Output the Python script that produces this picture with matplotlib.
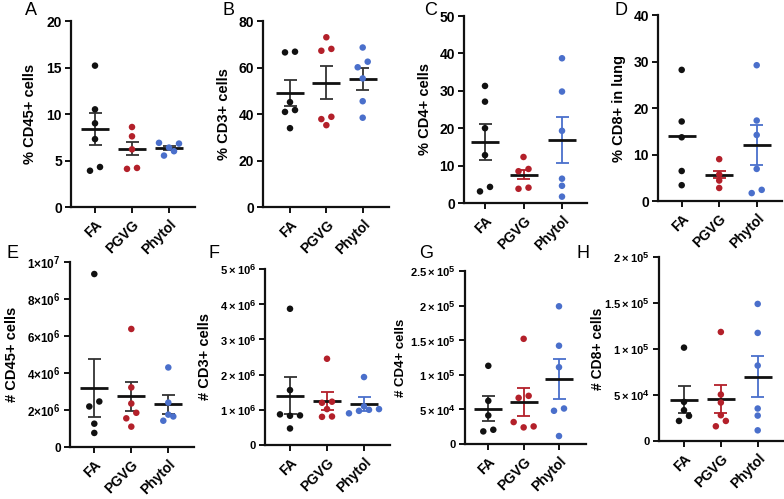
import numpy as np
import matplotlib
matplotlib.use('Agg')
import matplotlib.pyplot as plt
import matplotlib._mathtext as _mt

# larger superscripts (closer to the reference's exponent size)
_mt.SHRINK_FACTOR = 0.82

plt.rcParams['font.family'] = ['Liberation Sans', 'DejaVu Sans']
plt.rcParams['mathtext.fontset'] = 'custom'
plt.rcParams['mathtext.bf'] = 'Liberation Sans:bold'
plt.rcParams['mathtext.rm'] = 'Liberation Sans:bold'
plt.rcParams['mathtext.default'] = 'bf'

groups = ['FA', 'PGVG', 'Phytol']
TS = '\u2009'  # thin space used in the exponent labels

# ---- Panel A: % CD45+ cells
a_fa = [15.2, 10.5, 9.0, 7.3, 4.3, 3.9]
a_pgvg = [8.6, 7.6, 6.2, 4.2, 4.1]
a_phytol = [6.9, 6.82, 6.39, 5.53, 6.0]
a_mean = [8.4, 6.28, 6.35]
a_sem = [1.7, 0.72, 0.25]
a_ticks = [0, 5, 10, 15, 20]
a_ticklabels = ['0', '5', '10', '15', '20']

# ---- Panel B: % CD3+ cells
b_fa = [66.5, 66.8, 45.1, 41.7, 40.9, 33.9]
b_pgvg = [73.0, 68.0, 67.2, 38.8, 37.8, 35.2]
b_phytol = [68.6, 62.5, 60.1, 55.3, 45.5, 38.4]
b_mean = [49.1, 53.4, 55.0]
b_sem = [5.6, 7.1, 4.6]
b_ticks = [0, 20, 40, 60, 80]
b_ticklabels = ['0', '20', '40', '60', '80']

# ---- Panel C: % CD4+ cells
c_fa = [31.3, 27.1, 20.0, 12.8, 3.1, 4.3]
c_pgvg = [12.3, 9.1, 8.5, 3.8, 4.1]
c_phytol = [38.7, 29.8, 19.3, 6.5, 4.6, 1.7]
c_mean = [16.4, 7.55, 16.8]
c_sem = [4.8, 1.25, 6.2]
c_ticks = [0, 10, 20, 30, 40, 50]
c_ticklabels = ['0', '10', '20', '30', '40', '50']

# ---- Panel D: % CD8+ in lung
d_fa = [28.2, 17.1, 13.7, 6.45, 3.4]
d_pgvg = [9.0, 5.7, 4.4, 2.8]
d_phytol = [29.2, 17.3, 14.2, 6.9, 2.4, 1.7]
d_mean = [14.0, 5.66, 12.0]
d_sem = [np.nan, 0.8, 4.25]
d_ticks = [0, 10, 20, 30, 40]
d_ticklabels = ['0', '10', '20', '30', '40']

# ---- Panel E: # CD45+ cells
e_fa = [9.35e6, 2.46e6, 2.19e6, 1.26e6, 0.76e6]
e_pgvg = [6.38e6, 3.22e6, 2.35e6, 1.85e6, 1.55e6, 1.10e6]
e_phytol = [4.3e6, 2.4e6, 1.75e6, 1.65e6, 1.42e6]
e_mean = [3.2e6, 2.73e6, 2.3e6]
e_sem = [1.57e6, 0.78e6, 0.53e6]
e_ticks = [0, 2e6, 4e6, 6e6, 8e6, 1e7]
e_ticklabels = ['0', '2×10$^{6}$', '4×10$^{6}$', '6×10$^{6}$', '8×10$^{6}$', '1×10$^{7}$']

# ---- Panel F: # CD3+ cells
f_fa = [3.87e6, 1.56e6, 0.87e6, 0.83e6, 0.84e6, 0.47e6]
f_pgvg = [2.45e6, 1.23e6, 1.2e6, 1.02e6, 0.8e6, 0.81e6]
f_phytol = [1.93e6, 1.1e6, 1.02e6, 1.0e6, 0.97e6, 0.9e6]
f_mean = [1.40e6, 1.25e6, 1.17e6]
f_sem = [0.52e6, 0.25e6, 0.19e6]
f_ticks = [0, 1e6, 2e6, 3e6, 4e6, 5e6]
f_ticklabels = ['0'] + [f'{k}{TS}×{TS}10' + '$^{6}$' for k in ('1', '2', '3', '4', '5')]

# ---- Panel G: # CD4+ cells
g_fa = [11.3e4, 6.24e4, 4.13e4, 1.82e4, 2.06e4]
g_pgvg = [15.2e4, 6.96e4, 6.67e4, 3.17e4, 2.54e4, 2.4e4]
g_phytol = [19.9e4, 14.2e4, 11.1e4, 5.13e4, 4.8e4, 1.15e4]
g_mean = [5.1e4, 6.1e4, 9.4e4]
g_sem = [1.8e4, 2.0e4, 2.85e4]
g_ticks = [0, 5e4, 1e5, 1.5e5, 2e5, 2.5e5]
g_ticklabels = ['0', f'5{TS}×{TS}10' + '$^{4}$', f'1{TS}×{TS}10' + '$^{5}$',
                f'1.5{TS}×{TS}10' + '$^{5}$', f'2{TS}×{TS}10' + '$^{5}$',
                f'2.5{TS}×{TS}10' + '$^{5}$']

# ---- Panel H: # CD8+ cells
h_fa = [10.15e4, 4.25e4, 3.35e4, 2.18e4, 2.73e4]
h_pgvg = [11.85e4, 5.05e4, 4.18e4, 2.8e4, 2.18e4, 1.6e4]
h_phytol = [14.9e4, 11.75e4, 8.2e4, 3.53e4, 2.76e4, 1.16e4]
h_mean = [4.5e4, 4.58e4, 7.0e4]
h_sem = [1.45e4, 1.5e4, 2.2e4]
h_ticks = [0, 5e4, 1e5, 1.5e5, 2e5]
h_ticklabels = ['0', f'5{TS}×{TS}10' + '$^{4}$', f'1{TS}×{TS}10' + '$^{5}$',
                f'1.5{TS}×{TS}10' + '$^{5}$', f'2{TS}×{TS}10' + '$^{5}$']

ylabels = ['% CD45+ cells', '% CD3+ cells', '% CD4+ cells', '% CD8+ in lung',
           '# CD45+ cells', '# CD3+ cells', '# CD4+ cells', '# CD8+ cells']
letters = ['A', 'B', 'C', 'D', 'E', 'F', 'G', 'H']

# ---- styling / layout (pixels) ----
W, H = 784, 499
BLACK = '#111111'
RED = '#B3202A'
BLUE = '#4A6FCB'
DARK = '#333333'
point_colors = [BLACK, RED, BLUE]

panels = [
    dict(data=(a_fa, a_pgvg, a_phytol), mean=a_mean, sem=a_sem, ticks=a_ticks, tl=a_ticklabels,
         box=(71, 21, 195, 207), c=(95, 169), lab=30.5, let=(25, 2), tfs=10, lfs=10.5, err=[DARK] * 3),
    dict(data=(b_fa, b_pgvg, b_phytol), mean=b_mean, sem=b_sem, ticks=b_ticks, tl=b_ticklabels,
         box=(263, 21, 389, 207), c=(290, 362.7), lab=223.5, let=(222, 2), tfs=10, lfs=10.5, err=[DARK] * 3),
    dict(data=(c_fa, c_pgvg, c_phytol), mean=c_mean, sem=c_sem, ticks=c_ticks, tl=c_ticklabels,
         box=(464, 16, 587, 203), c=(485, 562), lab=425, let=(424, 2), tfs=10, lfs=10.5, err=[DARK, RED, BLUE]),
    dict(data=(d_fa, d_pgvg, d_phytol), mean=d_mean, sem=d_sem, ticks=d_ticks, tl=d_ticklabels,
         box=(658, 15, 782, 201), c=(681.7, 756.7), lab=619, let=(615, 2), tfs=10, lfs=10.5, err=[DARK, RED, BLUE]),
    dict(data=(e_fa, e_pgvg, e_phytol), mean=e_mean, sem=e_sem, ticks=e_ticks, tl=e_ticklabels,
         box=(70, 262, 194, 447), c=(94.3, 168.3), lab=12.5, let=(7, 245), tfs=8.5, lfs=10.5, err=[DARK] * 3),
    dict(data=(f_fa, f_pgvg, f_phytol), mean=f_mean, sem=f_sem, ticks=f_ticks, tl=f_ticklabels,
         box=(265, 269, 390, 445), c=(290, 364), lab=205, let=(209, 245), tfs=8, lfs=10.5, err=[DARK, RED, BLUE]),
    dict(data=(g_fa, g_pgvg, g_phytol), mean=g_mean, sem=g_sem, ticks=g_ticks, tl=g_ticklabels,
         box=(465, 271, 586, 444), c=(488.3, 559), lab=401, let=(419, 245), tfs=8, lfs=9.5, err=[DARK, RED, BLUE]),
    dict(data=(h_fa, h_pgvg, h_phytol), mean=h_mean, sem=h_sem, ticks=h_ticks, tl=h_ticklabels,
         box=(659, 257, 783, 441), c=(684, 757.7), lab=597.5, let=(576, 245), tfs=8, lfs=10, err=[DARK, RED, BLUE]),
]


def swarm(vals, px_per_unit, diam=6.0, step=10.0):
    """Row-wise horizontal spreading of points that would overlap."""
    vals = np.asarray(vals, dtype=float)
    order = np.argsort(vals, kind='stable')
    v = vals[order] * px_per_unit
    clusters = [[0]]
    for i in range(1, len(v)):
        if v[i] - v[clusters[-1][0]] < diam:
            clusters[-1].append(i)
        else:
            clusters.append([i])
    offs = np.zeros(len(v))
    for cl in clusters:
        n = len(cl)
        if n == 2:
            pattern = [-0.5, 0.5]
        elif n == 3:
            pattern = [0.0, 1.0, -1.0]
        else:
            pattern = [j - (n - 1) / 2 for j in range(n)]
        for k, pf in zip(cl, pattern):
            offs[k] = pf * step
    out = np.zeros(len(v))
    out[order] = offs
    return out


fig = plt.figure(figsize=(W / 100, H / 100), dpi=100)

for p, ylab, letter in zip(panels, ylabels, letters):
    l, t, r, b = p['box']
    ax = fig.add_axes([l / W, 1 - b / H, (r - l) / W, (b - t) / H])
    c0, c2 = p['c']
    sp = (c2 - c0) / 2.0
    ax.set_xlim(-(c0 - l) / sp, 2 + (r - c2) / sp)
    ymax = p['ticks'][-1]
    ax.set_ylim(0, ymax)
    pxu = (b - t) / ymax

    for i, vals in enumerate(p['data']):
        offs = swarm(vals, pxu) / sp
        ax.scatter(i + offs, vals, s=22, color=point_colors[i], edgecolors='none', zorder=3, clip_on=False)
        m = p['mean'][i]
        s = p['sem'][i]
        if not np.isnan(s):
            ax.plot([i, i], [m - s, m + s], color=p['err'][i], lw=1.3, zorder=2, solid_capstyle='butt')
            for yy in (m - s, m + s):
                ax.plot([i - 6.5 / sp, i + 6.5 / sp], [yy, yy], color=p['err'][i], lw=1.3, zorder=2,
                        solid_capstyle='butt')
        ax.plot([i - 14 / sp, i + 14 / sp], [m, m], color=BLACK, lw=2.0, zorder=2.5, solid_capstyle='butt')

    for side in ('top', 'right'):
        ax.spines[side].set_visible(False)
    for side in ('left', 'bottom'):
        ax.spines[side].set_linewidth(1.6)
        ax.spines[side].set_color(BLACK)
    ax.set_yticks(p['ticks'])
    ax.set_yticklabels(p['tl'], fontsize=p['tfs'], fontweight='bold')
    ax.set_xticks(range(3))
    ax.set_xticklabels(groups, fontsize=10, fontweight='bold', rotation=45, ha='right',
                       va='top', rotation_mode='anchor')
    ax.tick_params(axis='both', direction='out', length=4.5, width=1.4, color=BLACK, pad=2)
    ax.tick_params(axis='x', pad=3)

    fig.text(p['lab'] / W, 1 - ((t + b) / 2) / H, ylab, rotation=90, ha='center', va='center',
             fontsize=p['lfs'], fontweight='bold')
    fig.text(p['let'][0] / W, 1 - p['let'][1] / H, letter, ha='left', va='top', fontsize=13)

fig.savefig('out.png', dpi=100)
